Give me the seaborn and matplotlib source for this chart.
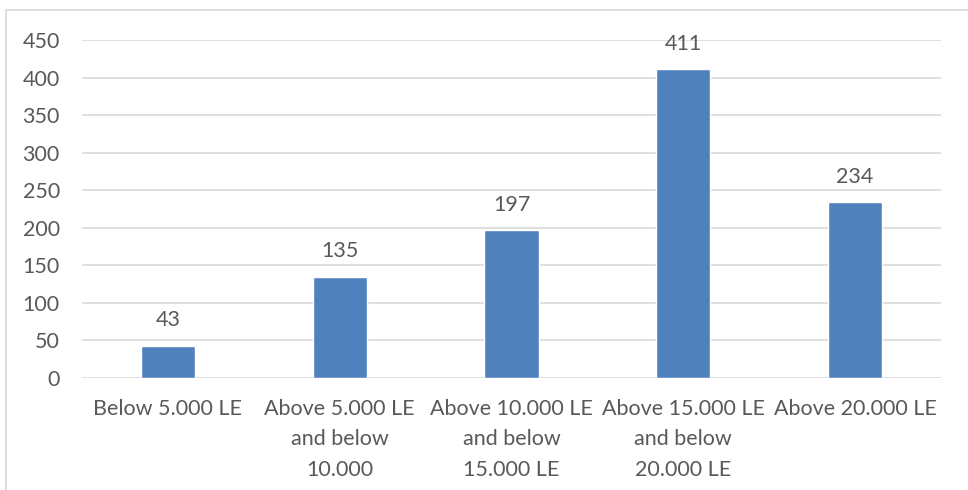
import matplotlib
matplotlib.use("Agg")
import matplotlib.pyplot as plt
import seaborn as sns
import pandas as pd
from matplotlib.patches import Rectangle

categories = [
    "Below 5.000 LE",
    "Above 5.000 LE\nand below\n10.000",
    "Above 10.000 LE\nand below\n15.000 LE",
    "Above 15.000 LE\nand below\n20.000 LE",
    "Above 20.000 LE",
]
counts = [43, 135, 197, 411, 234]
y_ticks = [0, 50, 100, 150, 200, 250, 300, 350, 400, 450]

df = pd.DataFrame({"category": categories, "count": counts})

sns.set_theme(style="white")
plt.rcParams["font.family"] = ["Lato", "DejaVu Sans"]

W, H = 968, 490
fig = plt.figure(figsize=(W / 100, H / 100), dpi=100)
fig.patch.set_facecolor("white")

# outer chart frame
fig.patches.append(Rectangle((6 / W, -0.1), 1.2, 1 - 10 / H + 0.1,
                             transform=fig.transFigure, fill=False,
                             edgecolor="#D9D9D9", linewidth=1.2))

ax = fig.add_axes([82 / W, (H - 378) / H, (941 - 82) / W, 338 / H])
text_color = "#595959"
fs = 15.5

sns.barplot(data=df, x="category", y="count", color="#4F81BD",
            saturation=1, width=0.315, ax=ax, zorder=3)

ax.set_ylim(0, 450)
ax.set_yticks(y_ticks)
ax.set_xlim(-0.5, len(categories) - 0.5)
ax.yaxis.grid(True, color="#D9D9D9", linewidth=1.2, zorder=0)
ax.xaxis.grid(False)
for s in ax.spines.values():
    s.set_visible(False)
ax.set_xlabel("")
ax.set_ylabel("")
ax.tick_params(axis="y", length=0, pad=16, labelsize=fs, labelcolor=text_color)
ax.tick_params(axis="x", length=0, pad=15, labelsize=fs, labelcolor=text_color)
for lbl in ax.get_xticklabels():
    lbl.set_linespacing(1.65)

for i, v in enumerate(counts):
    ax.annotate(str(v), xy=(i, v), xytext=(0, 11), textcoords="offset points",
                ha="center", va="bottom", fontsize=fs, color=text_color)

fig.savefig("out.png", dpi=100)
